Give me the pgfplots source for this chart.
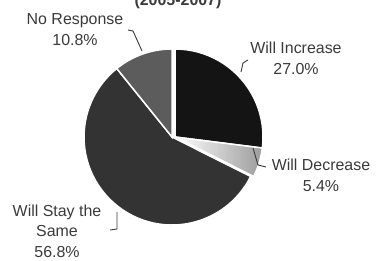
\documentclass[border=0pt]{standalone}
\usepackage{pgfplots}
\usepackage{pgfplotstable}
\pgfplotsset{compat=1.18}
\usepackage{fontspec}
\setmainfont{Liberation Sans}
\definecolor{txt}{HTML}{3A3A3A}
\definecolor{cInc}{HTML}{141414}
\definecolor{cDec}{HTML}{B8B8B8}
\definecolor{cSame}{HTML}{333333}
\definecolor{cNo}{HTML}{5C5C5C}
\pgfplotstableread{
label value
Increase 27.0
Decrease 5.4
Same 56.8
NoResponse 10.8
}\piedata
\pgfplotstablegetelem{0}{value}\of\piedata \edef\vA{\pgfplotsretval}%
\pgfplotstablegetelem{1}{value}\of\piedata \edef\vB{\pgfplotsretval}%
\pgfplotstablegetelem{2}{value}\of\piedata \edef\vC{\pgfplotsretval}%
\pgfplotstablegetelem{3}{value}\of\piedata \edef\vD{\pgfplotsretval}%
\pgfmathsetmacro\tA{90}%
\pgfmathsetmacro\tB{\tA-3.6*\vA}%
\pgfmathsetmacro\tC{\tB-3.6*\vB}%
\pgfmathsetmacro\tD{\tC-3.6*\vC}%
\pgfmathsetmacro\tE{\tD-3.6*\vD}%
\begin{document}%
\begin{tikzpicture}
\useasboundingbox (0,0) rectangle (378bp,261bp);
\begin{axis}[hide axis, scale only axis, width=378bp, height=261bp,
  xmin=0, xmax=378, ymin=0, ymax=261, clip=false, anchor=south west, at={(0,0)}]
\addplot[draw=none] coordinates {(0,0)};
% slices
\fill[cSame, draw=white, line width=1.5bp] (axis cs:172,124) -- ++(\tC:88bp) arc[start angle=\tC, end angle=\tD, radius=88bp] -- cycle;
\fill[cNo, draw=white, line width=1.5bp] (axis cs:172,124) -- ++(\tD:88bp) arc[start angle=\tD, end angle=\tE, radius=88bp] -- cycle;
\fill[cInc, draw=white, line width=1.5bp] (axis cs:175,124) -- ++(\tA:88bp) arc[start angle=\tA, end angle=\tB, radius=88bp] -- cycle;
\path[left color=white, right color=cDec!85!black, draw=white, line width=1.5bp] (axis cs:175,124) -- ++(\tB:88bp) arc[start angle=\tB, end angle=\tC, radius=88bp] -- cycle;
% title (cut off at the top, as in the source image)
\node[anchor=base, font=\fontsize{16}{20}\selectfont\bfseries, text=txt] at (axis cs:178,255) {(2005-2007)};
% labels
\node[align=center, font=\fontsize{16}{21}\selectfont, text=txt] at (axis cs:75,231) {No Response\\10.8\%};
\node[align=center, font=\fontsize{16}{21}\selectfont, text=txt] at (axis cs:296,202.5) {Will Increase\\27.0\%};
\node[align=center, font=\fontsize{16}{21}\selectfont, text=txt] at (axis cs:321,85.5) {Will Decrease\\5.4\%};
\node[align=center, font=\fontsize{16}{20.5}\selectfont, text=txt] at (axis cs:57,30) {Will Stay the\\Same\\56.8\%};
% leader lines
\draw[txt, line width=0.9bp] (axis cs:128,231) -- (axis cs:133,230) -- (axis cs:142,210);
\draw[txt, line width=0.9bp] (axis cs:248,201) -- (axis cs:243,198) -- (axis cs:241,189);
\draw[txt, line width=0.9bp] (axis cs:253,113) -- (axis cs:258,96) -- (axis cs:266,94);
\draw[txt, line width=0.9bp] (axis cs:117,49) -- (axis cs:117,32) -- (axis cs:110,31);
\end{axis}
\end{tikzpicture}%
\end{document}
